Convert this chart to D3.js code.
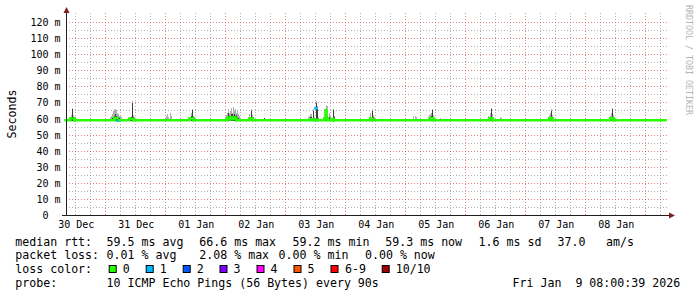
<!DOCTYPE html>
<html><head><meta charset="utf-8">
<script src="https://cdn.jsdelivr.net/npm/d3@7"></script>
<style>
html,body{margin:0;padding:0;background:#fff;}
svg{display:block;}
text{font-family:"DejaVu Sans Mono",monospace;fill:#000;white-space:pre;}
</style>
</head><body><svg id="c" width="697" height="297"></svg>
<script>
// ---------- data ----------
const startTime = new Date(2025, 11, 30, 8, 0, 0);
const endTime = new Date(2026, 0, 9, 8, 0, 0);
const yTicks = [0, 10, 20, 30, 40, 50, 60, 70, 80, 90, 100, 110, 120];
const yMinorTicks = [5, 15, 25, 35, 45, 55, 65, 75, 85, 95, 105, 115];
const dayLabels = ["30 Dec", "31 Dec", "01 Jan", "02 Jan", "03 Jan", "04 Jan", "05 Jan", "06 Jan", "07 Jan", "08 Jan"];

// median RTT (ms): step breakpoints, hours since start, with loss class
const medianHours = [0, 2.0, 3.6, 19.6, 20.8, 21.6, 25.6, 27.2, 49.6, 51.2, 64.8, 65.6, 66.4, 66.8, 67.6, 68.4, 73.6, 74.8, 98.4, 99.2, 100.0, 100.4, 100.8, 103.6, 104.0, 104.4, 104.8, 106.8, 107.2, 122.0, 122.8, 146.0, 147.2, 169.6, 170.8, 193.6, 194.8, 218.0, 219.2, 240];
const medianValues = [59.3, 60.3, 59.3, 60.6, 59.0, 59.3, 60.2, 59.3, 60.3, 59.3, 60.8, 59.8, 61.0, 60.0, 60.8, 59.3, 60.3, 59.3, 59.8, 59.3, 66.6, 59.6, 59.3, 60.5, 65.5, 60.5, 59.3, 60.0, 59.3, 60.3, 59.3, 60.5, 59.3, 60.5, 59.3, 60.5, 59.3, 60.5, 59.3, 59.3];
const medianLoss = [0, 0, 0, 0, 1, 0, 0, 0, 0, 0, 0, 0, 0, 0, 0, 0, 0, 0, 0, 0, 1, 0, 0, 0, 0, 0, 0, 0, 0, 0, 0, 0, 0, 0, 0, 0, 0, 0, 0, 0];

// smoke (ping spread): hours since start, highest ping, upper-middle ping (ms)
const smokeFloor = 59.0;
const smokeHours = [1.6, 2.0, 2.4, 2.8, 3.2, 3.6,
  17.6, 18.0, 18.4, 18.8, 19.2, 19.6, 20.0, 20.4, 20.8, 21.2, 21.6, 22.0,
  25.6, 26.0, 26.4, 26.8, 27.2,
  40.0, 40.4, 40.8, 41.6, 42.0,
  49.2, 50.0, 50.4, 50.8, 51.2,
  63.6, 64.0, 64.4, 64.8, 65.2, 65.6, 66.0, 66.4, 66.8, 67.2, 67.6, 68.0, 68.4, 68.8, 69.2,
  73.2, 73.6, 74.0, 74.4, 74.8,
  79.2,
  96.8, 97.2, 97.6, 98.0, 98.4, 98.8, 99.2, 100.0, 100.4, 100.8, 103.2, 103.6, 104.0, 104.4, 104.8, 105.2, 105.6, 106.8, 107.2,
  121.2, 121.6, 122.0, 122.4, 122.8, 123.2,
  138.8, 139.2, 139.6, 140.0,
  144.8, 145.2, 145.6, 146.0, 146.4, 146.8, 147.2, 149.6,
  168.8, 169.2, 169.6, 170.0, 170.4, 170.8,
  173.6, 174.0,
  192.8, 193.2, 193.6, 194.0, 194.4, 194.8,
  217.2, 217.6, 218.0, 218.4, 218.8, 219.2];
const smokeMax = [61.5, 62.5, 67, 62.5, 61.5, 61,
  61, 62, 63, 65, 66, 66, 65.5, 64, 63, 62, 62, 61,
  61, 62, 71, 62.5, 61,
  62, 63, 61.5, 63.5, 62,
  61, 64, 66.5, 62, 61,
  61.5, 62.5, 64, 66, 64, 65, 67, 64, 67.5, 65, 66, 64, 65, 63, 62,
  61.5, 63, 66, 62.5, 61.5,
  60.8,
  61, 62, 63, 62, 63, 66, 61, 71, 68, 61, 63, 66, 68.6, 67, 68, 64, 62, 66, 62,
  61, 62.5, 64, 66, 62.5, 61,
  61.5, 62, 62, 61,
  61, 62.5, 63, 64, 66.5, 62.5, 61.5, 60.5,
  61, 62, 63.5, 67, 63, 61.5,
  61, 60.8,
  61, 62.5, 63.5, 66, 62.5, 61,
  61, 62, 63.5, 67, 62.5, 61];
const smokeMid = [60, 60.5, 66, 61, 60.5, 60,
  60, 60, 60.5, 61, 62, 63, 62, 61, 61, 60.5, 60, 60,
  60.5, 61, 70, 61, 60,
  60, 60, 60, 60, 60,
  60, 62, 65.5, 61, 60,
  60, 60.5, 61, 64, 62, 62, 63, 63, 62, 63, 62, 62.5, 61, 60.5, 60,
  60, 61, 65, 61, 60,
  60.8,
  60, 60, 61, 60.5, 61, 65, 60, 70, 66, 60, 61, 65.5, 65, 62, 62, 61, 60, 65.5, 61,
  60, 60.5, 61.5, 65, 61, 60,
  60, 60, 60, 60,
  60, 61, 61.5, 62, 65.5, 61, 60, 60,
  60, 60, 61, 66, 61, 60,
  60, 60,
  60, 60.5, 61, 65, 61, 60,
  60, 60.5, 61.5, 66, 61, 60];

const lossLabels = ["0", "1", "2", "3", "4", "5", "6-9", "10/10"];
const lossColors = ["#26ff00", "#00b8ff", "#0059ff", "#7e00ff", "#ff00ff", "#ff5500", "#ff0000", "#a10000"];

const medianStats = ["59.5 ms avg", "66.6 ms max", "59.2 ms min", "59.3 ms now", "1.6 ms sd", "37.0", "am/s"];
const lossStats = ["0.01 % avg", "2.08 % max", "0.00 % min", "0.00 % now"];
const probeText = "10 ICMP Echo Pings (56 Bytes) every 90s";
const dateText = "Fri Jan  9 08:00:39 2026";
const yAxisTitle = "Seconds";
const watermark = "RRDTOOL / TOBI OETIKER";

// ---------- drawing ----------
const svg = d3.select("#c");
const hourToDate = h => d3.timeMinute.offset(startTime, Math.round(h * 60));
const x = d3.scaleTime().domain([startTime, endTime]).range([65.5, 665.5]);
const y = d3.scaleLinear().domain([0, 120]).range([215.5, 22.5]);
const px = v => Math.floor(v) + 0.5;

const gridTop = 13, gridBottom = 215, gridLeft = 66, gridRight = 668;
const minorCol = "rgba(143,143,143,0.7)", majorCol = "rgba(222,79,79,0.72)";
const dash = "1,2";

// vertical grid
const g = svg.append("g");
x.ticks(d3.timeHour.every(6)).forEach(t => {
  const major = t.getHours() === 0;
  g.append("line").attr("x1", px(x(t))).attr("x2", px(x(t)))
    .attr("y1", gridTop).attr("y2", gridBottom)
    .attr("stroke", major ? majorCol : minorCol).attr("stroke-dasharray", dash);
});
// horizontal grid
yMinorTicks.forEach(v => {
  g.append("line").attr("x1", gridLeft).attr("x2", gridRight)
    .attr("y1", px(y(v))).attr("y2", px(y(v)))
    .attr("stroke", minorCol).attr("stroke-dasharray", dash);
});
yTicks.filter(v => v > 0).forEach(v => {
  g.append("line").attr("x1", gridLeft).attr("x2", gridRight)
    .attr("y1", px(y(v))).attr("y2", px(y(v)))
    .attr("stroke", majorCol).attr("stroke-dasharray", dash);
});

// smoke
const colW = x(hourToDate(0.4)) - x(hourToDate(0));
const smoke = svg.append("g").attr("shape-rendering", "crispEdges");
smokeHours.forEach((h, i) => {
  const x0 = Math.round(x(hourToDate(h)));
  smoke.append("rect").attr("x", x0).attr("width", Math.max(1, Math.round(colW)))
    .attr("y", y(smokeMax[i])).attr("height", y(smokeFloor) - y(smokeMax[i]))
    .attr("fill", "#b0b0b0");
  smoke.append("rect").attr("x", x0).attr("width", Math.max(1, Math.round(colW)))
    .attr("y", y(smokeMid[i])).attr("height", y(smokeFloor) - y(smokeMid[i]))
    .attr("fill", "#3c3c3c");
});

// median line, coloured by loss; colour changes break the line
const hline = d3.line().x(d => x(hourToDate(d[0]))).y(d => y(d[1]));
for (let i = 0; i < medianHours.length - 1; i++) {
  const pts = [[medianHours[i], medianValues[i]], [medianHours[i + 1], medianValues[i]]];
  if (medianLoss[i] === medianLoss[i + 1]) pts.push([medianHours[i + 1], medianValues[i + 1]]);
  svg.append("path")
    .attr("d", hline(pts))
    .attr("fill", "none").attr("stroke", lossColors[medianLoss[i]])
    .attr("stroke-width", 2.5).attr("stroke-linecap", "square");
}

// axes
const ax = svg.append("g");
ax.append("line").attr("x1", 66.5).attr("x2", 66.5).attr("y1", 12).attr("y2", 216)
  .attr("stroke", "#1f1f1f");
ax.append("line").attr("x1", 62).attr("x2", 669).attr("y1", 215.5).attr("y2", 215.5)
  .attr("stroke", "#1f1f1f");
ax.append("path").attr("d", "M63.5,13L69.5,13L66.5,7Z").attr("fill", "#801f1f");
ax.append("path").attr("d", "M669,212.5L669,218.5L675,215.5Z").attr("fill", "#801f1f");

// y tick labels
yTicks.forEach(v => {
  svg.append("text").attr("x", 60.5).attr("y", px(y(v)) + 3.5)
    .attr("text-anchor", "end").style("font-size", "10px")
    .text(v === 0 ? "0\u00a0\u00a0" : v + " m");
});
// x tick labels at midday
dayLabels.forEach((lab, i) => {
  const t = d3.timeHour.offset(d3.timeDay.offset(new Date(2025, 11, 30), i), 12);
  svg.append("text").attr("x", x(t) + 0.8).attr("y", 228)
    .attr("text-anchor", "middle").style("font-size", "10px").text(lab);
});

// y axis title
svg.append("text").attr("transform", "translate(15.5,114) rotate(-90)")
  .attr("text-anchor", "middle").style("font-size", "11.6px").text(yAxisTitle);

// watermark
svg.append("text").attr("transform", "translate(685.5,5) rotate(90)")
  .style("font-size", "8.3px").style("fill", "#b4b4b4").text(watermark);

// legend
const fs = "11.6px";
const leg = svg.append("g").style("font-size", fs);
leg.append("text").attr("x", 15.3).attr("y", 245.7).text("median rtt:");
[106.6, 199.3, 292.6, 385.3, 478.6, 557.6, 606].forEach((xx, i) => {
  leg.append("text").attr("x", xx).attr("y", 245.7).text(medianStats[i]);
});
leg.append("text").attr("x", 15.3).attr("y", 259.2).text("packet loss:");
[106.6, 199.3, 278.6, 365].forEach((xx, i) => {
  leg.append("text").attr("x", xx).attr("y", 259.2).text(lossStats[i]);
});
leg.append("text").attr("x", 15.3).attr("y", 273).text("loss color:");
[108.7, 145.7, 182.7, 219.5, 256.5, 293.5, 330.5, 381.7].forEach((xx, i) => {
  leg.append("rect").attr("x", xx + 0.5).attr("y", 265.5).attr("width", 7).attr("height", 7)
    .attr("fill", lossColors[i]).attr("stroke", "#000").attr("stroke-width", 1);
  leg.append("text").attr("x", xx + (i === 6 ? 14.5 : 14)).attr("y", 273).text(lossLabels[i]);
});
leg.append("text").attr("x", 15.3).attr("y", 286.6).text("probe:");
leg.append("text").attr("x", 106.6).attr("y", 286.6).text(probeText);
leg.append("text").attr("x", 512.6).attr("y", 286.6).text(dateText);
</script>
</body></html>
